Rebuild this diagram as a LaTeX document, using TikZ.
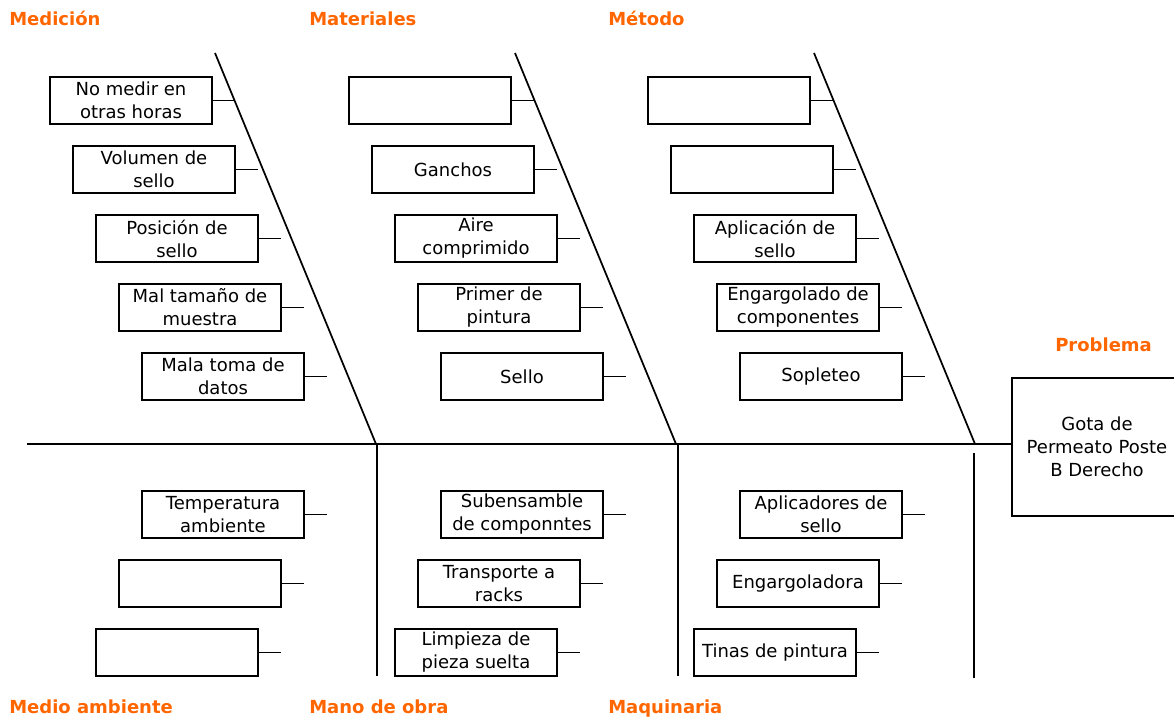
\documentclass[tikz,border=0pt]{standalone}
\usepackage{fontspec}
\setmainfont{DejaVu Sans}
\usepackage{tikz}
\pgfdeclarelayer{bg}
\pgfsetlayers{bg,main}
\definecolor{hdrorange}{RGB}{255,102,0}
\tikzset{
    every node/.style={inner sep=0mm},
    cause/.style={rectangle, draw, line width=1.5pt, fill=white, minimum width=121.5pt, minimum height=35.25pt, align=center, font=\fontsize{13.5pt}{17.25pt}\selectfont},
    header/.style={anchor=base west, text=hdrorange, font=\fontsize{13.5pt}{16pt}\selectfont\bfseries},
    bone/.style={line width=1.3pt}
}

\begin{document}
\begin{tikzpicture}[x=0.75pt, y=-0.75pt]
        \useasboundingbox (0,0) rectangle (1174,717);
        \clip (0,0) rectangle (1174,717);
        % headers
        \node (h1) [header] at (9,26) {Medición};
        \node (h2) [header] at (309,26) {Materiales};
        \node (h3) [header] at (608,26) {Método};
        \node (h4) [header] at (9,713) {Medio ambiente};
        \node (h5) [header] at (309,713) {Mano de obra};
        \node (h6) [header] at (608,713) {Maquinaria};
        \node (h7) [header] at (1055,351) {Problema};
        % problem
        \node (p) [cause, minimum width=127.5pt, minimum height=103.5pt] at (1097,447) {Gota de\\Permeato Poste\\B Derecho};
        % medicion
        \node (m1) [cause] at (131,100.5) {No medir en\\otras horas};
        \node (m2) [cause] at (154,169.5) {Volumen de\\sello};
        \node (m3) [cause] at (177,238.5) {Posición de\\sello};
        \node (m4) [cause] at (200,307.5) {Mal tamaño de\\muestra};
        \node (m5) [cause] at (223,376.5) {Mala toma de\\datos};
        % materiales
        \node (t1) [cause] at (430,100.5) {};
        \node (t2) [cause] at (453,169.5) {Ganchos};
        \node (t3) [cause] at (476,238.5) {Aire\\comprimido};
        \node (t4) [cause] at (499,307.5) {Primer de\\pintura};
        \node (t5) [cause] at (522,376.5) {Sello};
        % metodo
        \node (d1) [cause] at (729,100.5) {};
        \node (d2) [cause] at (752,169.5) {};
        \node (d3) [cause] at (775,238.5) {Aplicación de\\sello};
        \node (d4) [cause] at (798,307.5) {Engargolado de\\componentes};
        \node (d5) [cause] at (821,376.5) {Sopleteo};
        % medio ambiente
        \node (a1) [cause] at (223,514.5) {Temperatura\\ambiente};
        \node (a2) [cause] at (200,583.5) {};
        \node (a3) [cause] at (177,652.5) {};
        % mano de obra
        \node (o1) [cause] at (522,514.5) {Subensamble\\de componntes};
        \node (o2) [cause] at (499,583.5) {Transporte a\\racks};
        \node (o3) [cause] at (476,652.5) {Limpieza de\\pieza suelta};
        % maquinaria
        \node (q1) [cause] at (821,514.5) {Aplicadores de\\sello};
        \node (q2) [cause] at (798,583.5) {Engargoladora};
        \node (q3) [cause] at (775,652.5) {Tinas de pintura};
        % spine and bones
        \coordinate (s0) at (27,444);
        \coordinate (s1) at (1012,444);
        \coordinate (u1) at (215,53);
        \coordinate (u2) at (515,53);
        \coordinate (u3) at (814,53);
        \coordinate (b1) at (376,444);
        \coordinate (b2) at (676,444);
        \coordinate (b3) at (975,444);
        \coordinate (v1) at (377,444);
        \coordinate (w1) at (377,676);
        \coordinate (v2) at (678,444);
        \coordinate (w2) at (678,676);
        \coordinate (v3) at (974,453);
        \coordinate (w3) at (974,678);
        % connector ends
        \coordinate (m1e) at (235,100.5);
        \coordinate (m2e) at (258,169.5);
        \coordinate (m3e) at (281,238.5);
        \coordinate (m4e) at (304,307.5);
        \coordinate (m5e) at (327,376.5);
        \coordinate (t1e) at (534,100.5);
        \coordinate (t2e) at (557,169.5);
        \coordinate (t3e) at (580,238.5);
        \coordinate (t4e) at (603,307.5);
        \coordinate (t5e) at (626,376.5);
        \coordinate (d1e) at (833,100.5);
        \coordinate (d2e) at (856,169.5);
        \coordinate (d3e) at (879,238.5);
        \coordinate (d4e) at (902,307.5);
        \coordinate (d5e) at (925,376.5);
        \coordinate (a1e) at (327,514.5);
        \coordinate (a2e) at (304,583.5);
        \coordinate (a3e) at (281,652.5);
        \coordinate (o1e) at (626,514.5);
        \coordinate (o2e) at (603,583.5);
        \coordinate (o3e) at (580,652.5);
        \coordinate (q1e) at (925,514.5);
        \coordinate (q2e) at (902,583.5);
        \coordinate (q3e) at (879,652.5);
        \begin{pgfonlayer}{bg}
                \draw[bone] (s0) -- (s1);
                \draw[bone] (u1) -- (b1);
                \draw[bone] (u2) -- (b2);
                \draw[bone] (u3) -- (b3);
                \draw[bone] (v1) -- (w1);
                \draw[bone] (v2) -- (w2);
                \draw[bone] (v3) -- (w3);
                \draw[bone] (m1.east) -- (m1e);
                \draw[bone] (m2.east) -- (m2e);
                \draw[bone] (m3.east) -- (m3e);
                \draw[bone] (m4.east) -- (m4e);
                \draw[bone] (m5.east) -- (m5e);
                \draw[bone] (t1.east) -- (t1e);
                \draw[bone] (t2.east) -- (t2e);
                \draw[bone] (t3.east) -- (t3e);
                \draw[bone] (t4.east) -- (t4e);
                \draw[bone] (t5.east) -- (t5e);
                \draw[bone] (d1.east) -- (d1e);
                \draw[bone] (d2.east) -- (d2e);
                \draw[bone] (d3.east) -- (d3e);
                \draw[bone] (d4.east) -- (d4e);
                \draw[bone] (d5.east) -- (d5e);
                \draw[bone] (a1.east) -- (a1e);
                \draw[bone] (a2.east) -- (a2e);
                \draw[bone] (a3.east) -- (a3e);
                \draw[bone] (o1.east) -- (o1e);
                \draw[bone] (o2.east) -- (o2e);
                \draw[bone] (o3.east) -- (o3e);
                \draw[bone] (q1.east) -- (q1e);
                \draw[bone] (q2.east) -- (q2e);
                \draw[bone] (q3.east) -- (q3e);
        \end{pgfonlayer}
\end{tikzpicture}
\end{document}
